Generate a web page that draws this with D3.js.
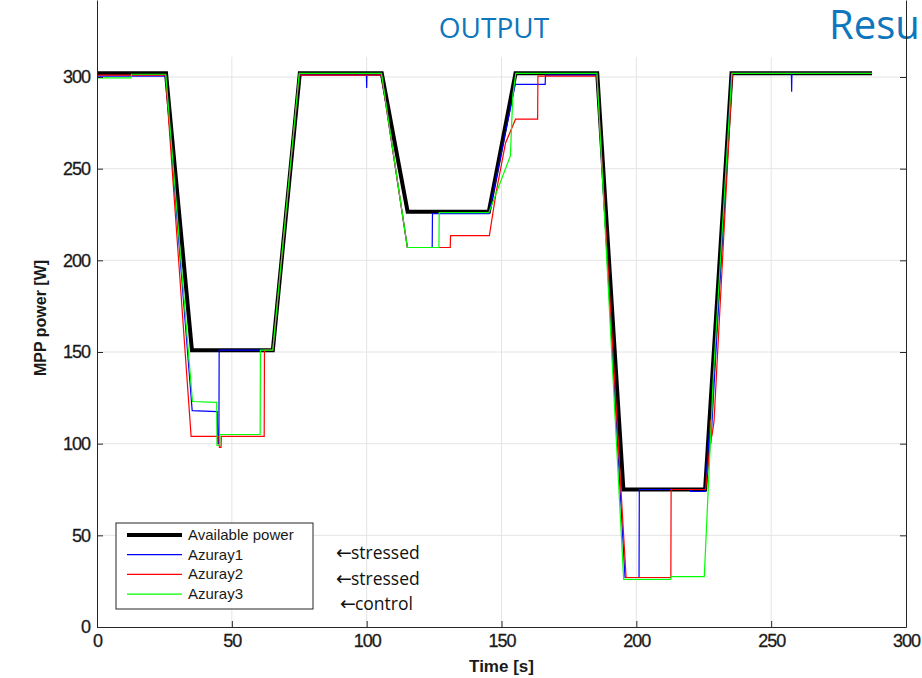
<!DOCTYPE html>
<html>
<head>
<meta charset="utf-8">
<script src="https://cdn.jsdelivr.net/npm/d3@7"></script>
<style>
  body { margin: 0; background: #fff; }
</style>
</head>
<body>
<div id="chart"></div>
<script>
// values: [time in s, MPP power in W]
let availablePower = [[0,302],[25.6,302],[35.2,151],[65.2,151],[75.2,302],[105.6,302],[115.2,226.5],[145.3,226.5],[155.2,302],[185.5,302],[195.2,75],[225.5,75],[235.3,302],[287.4,302]];
let azuray1 = [[0,300.5],[25.5,300.5],[35.3,118],[44.6,117.5],[44.8,100],[45.2,100],[45.3,151],[65.2,151],[75,301],[99.9,301],[100,294],[100.1,301],[105.5,301],[115.1,207],[124.3,207],[124.4,225.5],[145.4,225.5],[155.1,296],[166.2,296],[166.3,301],[185.4,301],[195.8,27],[201,27],[201.1,75],[220,75],[220.1,74],[225.5,74],[227.4,112],[227.6,100],[228.3,118],[235.3,302],[257.5,302],[257.6,292],[257.7,302],[287.4,302]];
let azuray2 = [[0,301],[25.4,301],[34.9,104],[45.2,104],[45.4,98],[46,98],[46.1,104],[62,104],[62.1,151],[65.2,151],[75,301],[105.5,301],[115.1,207],[131,207],[131.1,213.5],[145.5,213.5],[148,237],[151.5,264],[155.2,277],[163.4,277],[163.5,300.5],[185.4,300.5],[196.2,27],[212.8,27],[212.9,75],[225.7,75],[227.2,97],[227.5,113],[228,104],[228.8,112],[235.6,302],[287.4,302]];
let azuray3 = [[0,299.5],[12.6,299.5],[12.8,301.5],[25.5,301.5],[35.4,123],[44.4,122.5],[44.5,99],[45.5,99],[45.6,105],[60.5,105],[60.6,151],[65.2,151],[75,302],[105.5,302],[115.1,207],[126.8,207],[126.9,226],[145.3,226],[153.3,257],[154.2,290],[155.3,302],[185.4,302],[195.3,26],[212.8,26],[212.9,27.5],[225.2,27.5],[228.5,135],[235.4,302],[287.4,302]];

let xTicks = [0, 50, 100, 150, 200, 250, 300];
let yTicks = [0, 50, 100, 150, 200, 250, 300];
let seriesNames = ["Available power", "Azuray1", "Azuray2", "Azuray3"];
let seriesColors = ["#000000", "#0000ff", "#ff0000", "#00ff00"];
let notes = ["stressed", "stressed", "control"];

// set the dimensions and margins of the graph
let margin = { top: 0, right: 16, bottom: 51, left: 97 },
    width = 922 - margin.left - margin.right,
    height = 678 - margin.top - margin.bottom;

let root = d3.select("#chart")
    .append("svg")
    .attr("width", 922)
    .attr("height", 678);

// slide text behind the figure
root.append("text")
    .attr("x", 494)
    .attr("y", 38)
    .attr("text-anchor", "middle")
    .style("font-family", "'Open Sans', sans-serif")
    .style("font-size", "28px")
    .style("fill", "#0e76bc")
    .text("OUTPUT");

root.append("text")
    .attr("x", 829)
    .attr("y", 39)
    .style("font-family", "'Open Sans', sans-serif")
    .style("font-size", "40px")
    .style("fill", "#0e76bc")
    .text("Resu");

let svg = root.append("g")
    .attr("transform", "translate(" + margin.left + "," + margin.top + ")");

let x = d3.scaleLinear().domain([0, 300]).range([0, width]);
let y = d3.scaleLinear().domain([0, 342]).range([height, 0]);

// grid
svg.append("g")
    .selectAll("line")
    .data(xTicks.filter(function (d) { return d > 0 && d < 300; }))
    .enter().append("line")
    .attr("x1", function (d) { return x(d); })
    .attr("x2", function (d) { return x(d); })
    .attr("y1", y(311))
    .attr("y2", height)
    .style("stroke", "#e4e4e4")
    .style("stroke-width", 1);

svg.append("g")
    .selectAll("line")
    .data(yTicks.filter(function (d) { return d > 0; }))
    .enter().append("line")
    .attr("x1", 0)
    .attr("x2", width)
    .attr("y1", function (d) { return y(d); })
    .attr("y2", function (d) { return y(d); })
    .style("stroke", "#e4e4e4")
    .style("stroke-width", 1);

// lines
let line = d3.line()
    .x(function (d) { return x(d[0]); })
    .y(function (d) { return y(d[1]); });

let allSeries = [availablePower, azuray1, azuray2, azuray3];
allSeries.forEach(function (s, i) {
    svg.append("path")
        .datum(s)
        .attr("d", line)
        .style("fill", "none")
        .style("stroke", seriesColors[i])
        .style("stroke-width", i == 0 ? 4 : 1.2)
        .style("stroke-linejoin", "miter");
});

// axes
let tickFont = function (g) {
    g.style("color", "#262626");
    g.selectAll("text")
        .style("font-family", "'Liberation Sans', Arial, sans-serif")
        .style("font-size", "18px")
        .style("letter-spacing", "-1px")
        .style("stroke", "#1a1a1a")
        .style("stroke-width", 0.3)
        .style("fill", "#1a1a1a");
};

svg.append("g")
    .attr("transform", "translate(0," + height + ")")
    .call(d3.axisBottom(x).tickValues(xTicks).tickSizeInner(-6).tickSizeOuter(0).tickPadding(7))
    .call(tickFont);

svg.append("g")
    .call(d3.axisLeft(y).tickValues(yTicks).tickSizeInner(-6).tickSizeOuter(0).tickPadding(7))
    .call(tickFont);

svg.append("g")
    .attr("transform", "translate(" + width + ",0)")
    .call(d3.axisRight(y).tickValues(yTicks).tickSizeInner(-6).tickSizeOuter(0).tickFormat(""))
    .style("color", "#262626");

// axis titles
svg.append("text")
    .attr("x", x(150))
    .attr("y", height + 45)
    .attr("text-anchor", "middle")
    .style("font-family", "'Liberation Sans', Arial, sans-serif")
    .style("font-weight", "bold")
    .style("font-size", "17px")
    .style("fill", "#1a1a1a")
    .text("Time [s]");

svg.append("text")
    .attr("transform", "rotate(-90)")
    .attr("x", -318)
    .attr("y", -51)
    .attr("text-anchor", "middle")
    .style("font-family", "'Liberation Sans', Arial, sans-serif")
    .style("font-weight", "bold")
    .style("font-size", "16px")
    .style("fill", "#1a1a1a")
    .text("MPP power [W]");

// legend
let legend = svg.append("g").attr("transform", "translate(19,523)");
legend.append("rect")
    .attr("width", 197)
    .attr("height", 86)
    .style("fill", "#fff")
    .style("stroke", "#262626")
    .style("stroke-width", 1);

seriesNames.forEach(function (name, i) {
    let row = legend.append("g").attr("transform", "translate(0," + (12 + i * 19.7) + ")");
    row.append("line")
        .attr("x1", 11).attr("x2", 66)
        .style("stroke", seriesColors[i])
        .style("stroke-width", i == 0 ? 4 : 1.2);
    row.append("text")
        .attr("x", 72)
        .attr("y", 5)
        .style("font-family", "'Liberation Sans', Arial, sans-serif")
        .style("font-size", "15px")
        .style("fill", "#1a1a1a")
        .text(name);
});

// notes next to the legend
notes.forEach(function (t, i) {
    let note = svg.append("text")
        .attr("x", i == 2 ? 243 : 239)
        .attr("y", 559 + i * 25.5)
        .style("font-family", "'Open Sans', sans-serif")
        .style("font-size", "17.5px")
        .style("fill", "#111");
    note.append("tspan")
        .style("font-family", "'DejaVu Sans', sans-serif")
        .style("font-size", "19px")
        .text("\u2190");
    note.append("tspan")
        .attr("dx", -1)
        .text(t);
});
</script>
</body>
</html>
